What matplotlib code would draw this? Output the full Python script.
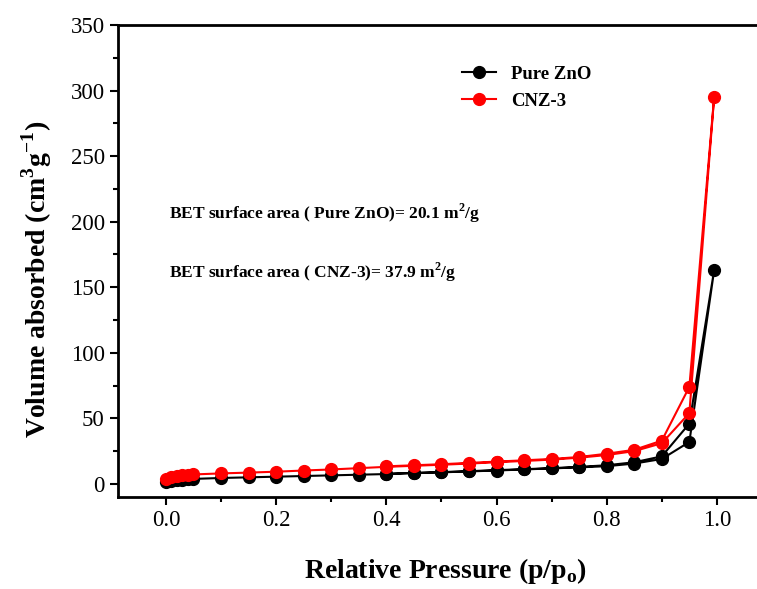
import matplotlib.pyplot as plt
from matplotlib.ticker import MultipleLocator

plt.rcParams['font.family'] = ['Liberation Serif', 'DejaVu Serif']
plt.rcParams['mathtext.fontset'] = 'custom'
plt.rcParams['mathtext.rm'] = 'Liberation Serif'
plt.rcParams['mathtext.bf'] = 'Liberation Serif:bold'

# adsorption + desorption branches (p/p0, volume)
zno_p = [0.0, 0.01, 0.02, 0.03, 0.04, 0.05, 0.1, 0.15, 0.2, 0.25, 0.3, 0.35, 0.4, 0.45,
         0.5, 0.55, 0.6, 0.65, 0.7, 0.75, 0.8, 0.85, 0.9, 0.95, 0.995,
         0.95, 0.9, 0.85, 0.8, 0.75, 0.7, 0.65, 0.6, 0.55, 0.5, 0.45, 0.4]
zno_v = [1.5, 2.5, 3.0, 3.3, 3.6, 3.8, 4.5, 5.0, 5.5, 6.0, 6.5, 7.0, 7.5, 8.2,
         8.8, 9.5, 10.2, 11.0, 11.8, 12.6, 13.5, 15.5, 19.0, 32.0, 163.0,
         46.0, 21.0, 16.5, 14.2, 13.0, 12.0, 11.2, 10.5, 9.7, 9.0, 8.4, 7.7]
cnz_p = zno_p
cnz_v = [4.0, 5.5, 6.0, 6.5, 7.0, 7.2, 8.0, 8.6, 9.3, 10.2, 11.0, 12.0, 13.0, 13.8,
         14.6, 15.5, 16.5, 17.5, 18.5, 20.0, 22.0, 25.0, 31.0, 54.0, 295.0,
         74.0, 33.0, 26.0, 23.0, 20.5, 19.0, 18.0, 17.0, 16.0, 15.0, 14.2, 13.4]

fig = plt.figure(figsize=(7.57, 5.89), dpi=100)
ax = fig.add_axes([118 / 757, 1 - 497 / 589, (772 - 118) / 757, (497 - 25) / 589])

ax.plot(zno_p, zno_v, color='black', marker='o', markersize=8.5, lw=1.5, label='Pure ZnO')
ax.plot(cnz_p, cnz_v, color='red', marker='o', markersize=8.5, lw=1.5, label='CNZ-3')

ax.set_xlim(-0.087, 1.1)
ax.set_ylim(-10, 350)
ax.xaxis.set_major_locator(MultipleLocator(0.2))
ax.xaxis.set_minor_locator(MultipleLocator(0.1))
ax.yaxis.set_major_locator(MultipleLocator(50))
ax.yaxis.set_minor_locator(MultipleLocator(25))
ax.tick_params(which='both', direction='out', width=1.5, labelsize=16.5)
ax.tick_params(which='major', length=6)
ax.tick_params(which='minor', length=3.5)
for s in ax.spines.values():
    s.set_linewidth(2)

ax.set_xlabel('Relative Pressure (p/p$_\\mathbf{o}$)', fontsize=20, fontweight='bold', labelpad=18)
ax.set_ylabel('Volume absorbed (cm$^\\mathbf{3}$g$^\\mathbf{-1}$)', fontsize=20, fontweight='bold')
ax.yaxis.set_label_coords(-0.098, 0.46)

ax.text(0.006, 202, 'BET surface area ( Pure ZnO)= 20.1 m$^\\mathbf{2}$/g', fontsize=12.5, fontweight='bold')
ax.text(0.006, 157, 'BET surface area ( CNZ-3)= 37.9 m$^\\mathbf{2}$/g', fontsize=12.5, fontweight='bold')

ax.legend(loc='upper left', bbox_to_anchor=(0.5, 0.95), frameon=False, handlelength=1.8,
          prop={'weight': 'bold', 'size': 13.5}, labelspacing=0.55)

fig.savefig('out.png', dpi=100)
